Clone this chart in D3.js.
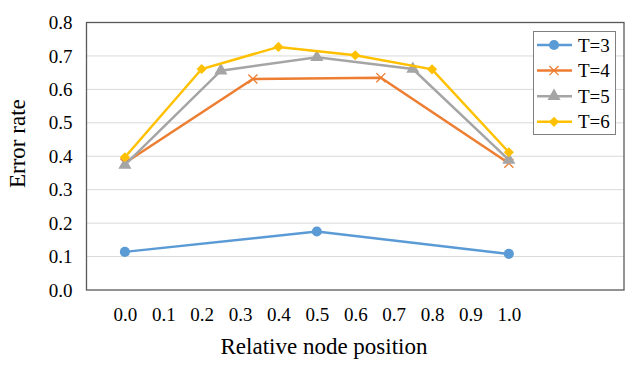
<!DOCTYPE html>
<html>
<head>
<meta charset="utf-8">
<script src="https://cdn.jsdelivr.net/npm/d3@7"></script>
<style>
  body { margin: 0; background: #fff; }
</style>
</head>
<body>
<div id="chart"></div>
<script>
// data
var xTicks = [0.0, 0.1, 0.2, 0.3, 0.4, 0.5, 0.6, 0.7, 0.8, 0.9, 1.0];
var yTicks = [0.0, 0.1, 0.2, 0.3, 0.4, 0.5, 0.6, 0.7, 0.8];
var seriesNames = ["T=3", "T=4", "T=5", "T=6"];
var xT3 = [0, 0.5, 1];
var yT3 = [0.114, 0.175, 0.108];
var xT4 = [0, 1/3, 2/3, 1];
var yT4 = [0.380, 0.631, 0.635, 0.379];
var xT5 = [0, 0.25, 0.5, 0.75, 1];
var yT5 = [0.374, 0.656, 0.696, 0.661, 0.389];
var xT6 = [0, 0.2, 0.4, 0.6, 0.8, 1];
var yT6 = [0.397, 0.661, 0.727, 0.702, 0.660, 0.412];

var colors = ["#5b9bd5", "#ed7d31", "#a5a5a5", "#ffc000"];
var FONT = "Liberation Serif";

var series = [
  {name: seriesNames[0], xs: xT3, ys: yT3},
  {name: seriesNames[1], xs: xT4, ys: yT4},
  {name: seriesNames[2], xs: xT5, ys: yT5},
  {name: seriesNames[3], xs: xT6, ys: yT6}
].map(function(s, i){
  return {name: s.name, idx: i, vals: s.xs.map(function(x, j){ return {x: x, y: s.ys[j]}; })};
});

var W = 636, H = 366;
var margin = {top: 22.5, right: 12, bottom: 76, left: 86.5};
var width = W - margin.left - margin.right,
    height = H - margin.top - margin.bottom;

var svg = d3.select("#chart").append("svg")
  .attr("width", W).attr("height", H)
  .attr("font-family", FONT);
var g = svg.append("g").attr("transform", "translate(" + margin.left + "," + margin.top + ")");

var x = d3.scaleLinear().domain([-0.1, 1.3]).range([0, width]);
var y = d3.scaleLinear().domain([0, 0.8]).range([height, 0]);

// gridlines
g.append("g").selectAll("line").data(yTicks.slice(1)).enter().append("line")
  .attr("x1", 0).attr("x2", width)
  .attr("y1", function(d){ return y(d); }).attr("y2", function(d){ return y(d); })
  .attr("stroke", "#d9d9d9").attr("stroke-width", 1);

// y axis labels
var yAxis = g.append("g")
  .call(d3.axisLeft(y).tickValues(yTicks).tickFormat(d3.format(".1f")).tickSize(0).tickPadding(14));
yAxis.attr("font-family", FONT).attr("font-size", 19);
yAxis.select(".domain").remove();
yAxis.selectAll("text").attr("fill", "#000");

// x axis labels
var xAxis = g.append("g").attr("transform", "translate(0," + height + ")")
  .call(d3.axisBottom(x).tickValues(xTicks).tickFormat(d3.format(".1f")).tickSize(0).tickPadding(18));
xAxis.attr("font-family", FONT).attr("font-size", 19);
xAxis.select(".domain").remove();
xAxis.selectAll("text").attr("fill", "#000");

// plot border
g.append("rect").attr("width", width).attr("height", height)
  .attr("fill", "none").attr("stroke", "#595959").attr("stroke-width", 1.3);

// lines
var line = d3.line().x(function(d){ return x(d.x); }).y(function(d){ return y(d.y); });
var sg = g.selectAll(".ser").data(series).enter().append("g").attr("class", "ser");
sg.append("path")
  .attr("d", function(d){ return line(d.vals); })
  .attr("fill", "none")
  .attr("stroke", function(d){ return colors[d.idx]; })
  .attr("stroke-width", 2.5);

// markers: circle, x, triangle, diamond (rotated square)
function markerPath(i){
  if (i === 0) return d3.symbol().type(d3.symbolCircle).size(80)();
  if (i === 1) return d3.symbol().type(d3.symbolX).size(55)();
  if (i === 2) return d3.symbol().type(d3.symbolTriangle).size(75)();
  return d3.symbol().type(d3.symbolSquare).size(52)();
}
function styleMarker(sel, i){
  if (i === 1) {
    sel.attr("fill", "none").attr("stroke", colors[i]).attr("stroke-width", 1.3);
  } else {
    sel.attr("fill", colors[i]).attr("stroke", "none");
  }
}
function rot(i){ return i === 3 ? " rotate(45)" : ""; }
sg.each(function(s){
  d3.select(this).selectAll(".m").data(s.vals).enter().append("path")
    .attr("class", "m")
    .attr("transform", function(d){ return "translate(" + x(d.x) + "," + y(d.y) + ")" + rot(s.idx); })
    .attr("d", markerPath(s.idx))
    .call(styleMarker, s.idx);
});

// axis titles
svg.append("text").attr("x", 324).attr("y", 354)
  .attr("text-anchor", "middle").attr("font-size", 23).text("Relative node position");
svg.append("text").attr("transform", "translate(25,188) rotate(-90)")
  .attr("text-anchor", "start").attr("font-size", 23).text("Error rate");

// legend
var lg = svg.append("g").attr("transform", "translate(533.5,31.5)");
lg.append("rect").attr("width", 82).attr("height", 103)
  .attr("fill", "#fff").attr("stroke", "#7f7f7f").attr("stroke-width", 1);
var li = lg.selectAll(".li").data(series).enter().append("g")
  .attr("transform", function(d, i){ return "translate(0," + (13.5 + i * 25.6) + ")"; });
li.append("line").attr("x1", 3.5).attr("x2", 38.5).attr("y1", 0).attr("y2", 0)
  .attr("stroke", function(d){ return colors[d.idx]; }).attr("stroke-width", 2.5);
li.append("path").attr("transform", function(d){ return "translate(20.5,0)" + rot(d.idx); })
  .attr("d", function(d){ return markerPath(d.idx); })
  .each(function(d){ styleMarker(d3.select(this), d.idx); });
li.append("text").attr("x", 44.5).attr("y", 0).attr("dy", "0.35em")
  .attr("font-size", 19).text(function(d){ return d.name; });
</script>
</body>
</html>
